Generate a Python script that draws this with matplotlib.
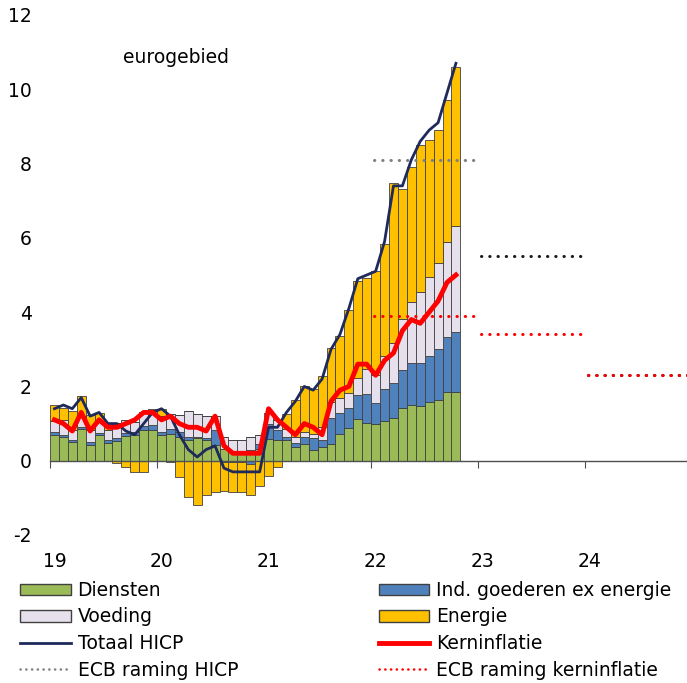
import numpy as np
import matplotlib.pyplot as plt
from matplotlib.patches import Patch
from matplotlib.lines import Line2D

# monthly contributions (pp), Jan 2019 - Oct 2022
diensten = [0.70, 0.64, 0.50, 0.86, 0.43, 0.70, 0.48, 0.54, 0.66, 0.68, 0.84, 0.84,
            0.70, 0.72, 0.64, 0.55, 0.60, 0.55, 0.41, 0.32, 0.23, 0.18, 0.28, 0.32,
            0.59, 0.55, 0.55, 0.38, 0.46, 0.29, 0.38, 0.46, 0.71, 0.88, 1.13, 1.01,
            0.99, 1.08, 1.16, 1.42, 1.51, 1.46, 1.59, 1.63, 1.85, 1.85]
ind_goederen = [0.06, 0.05, 0.05, 0.05, 0.08, 0.05, 0.08, 0.08, 0.08, 0.08, 0.10, 0.13,
                0.08, 0.13, 0.13, 0.10, 0.05, 0.05, 0.42, -0.03, -0.03, -0.03, -0.08, 0.13,
                0.41, 0.27, 0.08, 0.11, 0.19, 0.32, 0.19, 0.70, 0.57, 0.54, 0.65, 0.78,
                0.57, 0.84, 0.92, 1.03, 1.13, 1.16, 1.22, 1.38, 1.49, 1.62]
voeding = [0.30, 0.40, 0.29, 0.29, 0.31, 0.31, 0.27, 0.39, 0.35, 0.29, 0.37, 0.39,
           0.42, 0.40, 0.46, 0.68, 0.61, 0.61, 0.38, 0.32, 0.34, 0.38, 0.36, 0.25,
           0.29, 0.27, 0.23, 0.15, 0.13, 0.11, 0.34, 0.42, 0.40, 0.40, 0.46, 0.67,
           0.76, 0.91, 1.09, 1.37, 1.63, 1.93, 2.13, 2.30, 2.56, 2.84]
energie = [0.45, 0.33, 0.49, 0.54, 0.42, 0.23, 0.19, -0.06, -0.18, -0.30, -0.31, 0.02,
           0.19, -0.03, -0.45, -0.97, -1.19, -0.93, -0.84, -0.78, -0.82, -0.82, -0.83, -0.69,
           -0.40, -0.16, 0.41, 0.99, 1.24, 1.20, 1.36, 1.46, 1.67, 2.25, 2.61, 2.47,
           2.80, 3.00, 4.30, 3.50, 3.65, 3.95, 3.70, 3.60, 3.80, 4.30]
totaal_hicp = [1.4, 1.5, 1.4, 1.7, 1.2, 1.3, 1.0, 1.0, 0.8, 0.7, 1.0, 1.3,
               1.4, 1.2, 0.7, 0.3, 0.1, 0.3, 0.4, -0.2, -0.3, -0.3, -0.3, -0.3,
               0.9, 0.9, 1.3, 1.6, 2.0, 1.9, 2.2, 3.0, 3.4, 4.1, 4.9, 5.0,
               5.1, 5.9, 7.4, 7.4, 8.1, 8.6, 8.9, 9.1, 9.9, 10.7]
kerninflatie = [1.1, 1.0, 0.8, 1.3, 0.8, 1.1, 0.9, 0.9, 1.0, 1.1, 1.3, 1.3,
                1.1, 1.2, 1.0, 0.9, 0.9, 0.8, 1.2, 0.4, 0.2, 0.2, 0.2, 0.2,
                1.4, 1.1, 0.9, 0.7, 1.0, 0.9, 0.7, 1.6, 1.9, 2.0, 2.6, 2.6,
                2.3, 2.7, 2.9, 3.5, 3.8, 3.7, 4.0, 4.3, 4.8, 5.0]

# ECB projections (annual)
raming_jaren = [2022, 2023, 2024]
raming_hicp = [8.1, 5.5, 2.3]
raming_kern = [3.9, 3.4, 2.3]

jaar_labels = ['19', '20', '21', '22', '23', '24']

plt.rcParams['font.family'] = ['DejaVu Sans']
plt.rcParams['axes.unicode_minus'] = False
fs = 13.5

fig = plt.figure(figsize=(6.87, 6.83), dpi=100)
ax = fig.add_axes([50 / 687, 1 - 535 / 683, 637 / 687, 520 / 683])

x = np.arange(len(diensten)) + 0.5
comps = [diensten, ind_goederen, voeding, energie]
colors = ['#9BBB59', '#4F81BD', '#E6E0EC', '#FFC000']
pos_base = np.zeros(len(x))
neg_base = np.zeros(len(x))
for vals, col in zip(comps, colors):
    v = np.array(vals)
    pos = np.where(v > 0, v, 0)
    neg = np.where(v < 0, v, 0)
    ax.bar(x, pos, bottom=pos_base, width=1.0, color=col, edgecolor='#404040', linewidth=0.6, zorder=2)
    ax.bar(x, neg, bottom=neg_base, width=1.0, color=col, edgecolor='#404040', linewidth=0.6, zorder=2)
    pos_base += pos
    neg_base += neg

ax.plot(x, totaal_hicp, color='#1F2A5C', lw=2, zorder=3)
ax.plot(x, kerninflatie, color='#FF0000', lw=3.5, zorder=4)

dot = (0, (0.1, 2.6))
for jaar, h, k in zip(raming_jaren, raming_hicp, raming_kern):
    start = (jaar - 2019) * 12
    hcol = '#808080' if jaar == 2022 else '#1A1A1A'
    ax.plot([start + 0.3, start + 11.5], [h, h], color=hcol, lw=2.2, linestyle=dot,
            dash_capstyle='round', zorder=5)
    ax.plot([start + 0.3, start + 11.5], [k, k], color='#FF0000', lw=2.2, linestyle=dot,
            dash_capstyle='round', zorder=6)

ax.set_xlim(0, 71.4)
ax.set_ylim(-2, 12)
ax.set_yticks(range(-2, 13, 2))
ax.tick_params(axis='y', length=0, pad=13, labelsize=fs)

for s in ['left', 'right', 'top']:
    ax.spines[s].set_visible(False)
ax.spines['bottom'].set_position(('data', 0))
ax.spines['bottom'].set_color('#505050')
ax.spines['bottom'].set_linewidth(1)
ax.set_xticks(np.arange(0, 72, 12))
ax.set_xticklabels([])
ax.tick_params(axis='x', which='major', direction='out', length=5, color='#505050')
ax.set_xticks(np.arange(0, 72, 12) + 0.5, minor=True)
ax.set_xticklabels(jaar_labels, minor=True)
ax.tick_params(axis='x', which='minor', length=0, pad=66, labelsize=fs)

ax.text(8.2, 10.85, 'eurogebied', fontsize=fs, va='center', ha='left')

h_diensten = Patch(facecolor='#9BBB59', edgecolor='#404040')
h_ind = Patch(facecolor='#4F81BD', edgecolor='#404040')
h_voed = Patch(facecolor='#E6E0EC', edgecolor='#404040')
h_en = Patch(facecolor='#FFC000', edgecolor='#404040')
h_tot = Line2D([], [], color='#1F2A5C', lw=2)
h_kern = Line2D([], [], color='#FF0000', lw=3.5)
h_rh = Line2D([], [], color='#808080', lw=1.8, linestyle=(0, (0.1, 2.2)), dash_capstyle='round')
h_rk = Line2D([], [], color='#FF0000', lw=1.8, linestyle=(0, (0.1, 2.2)), dash_capstyle='round')

handles = [h_diensten, h_voed, h_tot, h_rh, h_ind, h_en, h_kern, h_rk]
labels = ['Diensten', 'Voeding', 'Totaal HICP', 'ECB raming HICP',
          'Ind. goederen ex energie', 'Energie', 'Kerninflatie', 'ECB raming kerninflatie']
fig.legend(handles, labels, ncol=2, loc='upper left', bbox_to_anchor=(20 / 687, 1 - 581 / 683),
           frameon=False, fontsize=fs, handlelength=2.7, handleheight=0.55, handletextpad=0.37,
           labelspacing=0.4, columnspacing=7.5, borderpad=0, borderaxespad=0)

fig.savefig('out.png', dpi=100)
